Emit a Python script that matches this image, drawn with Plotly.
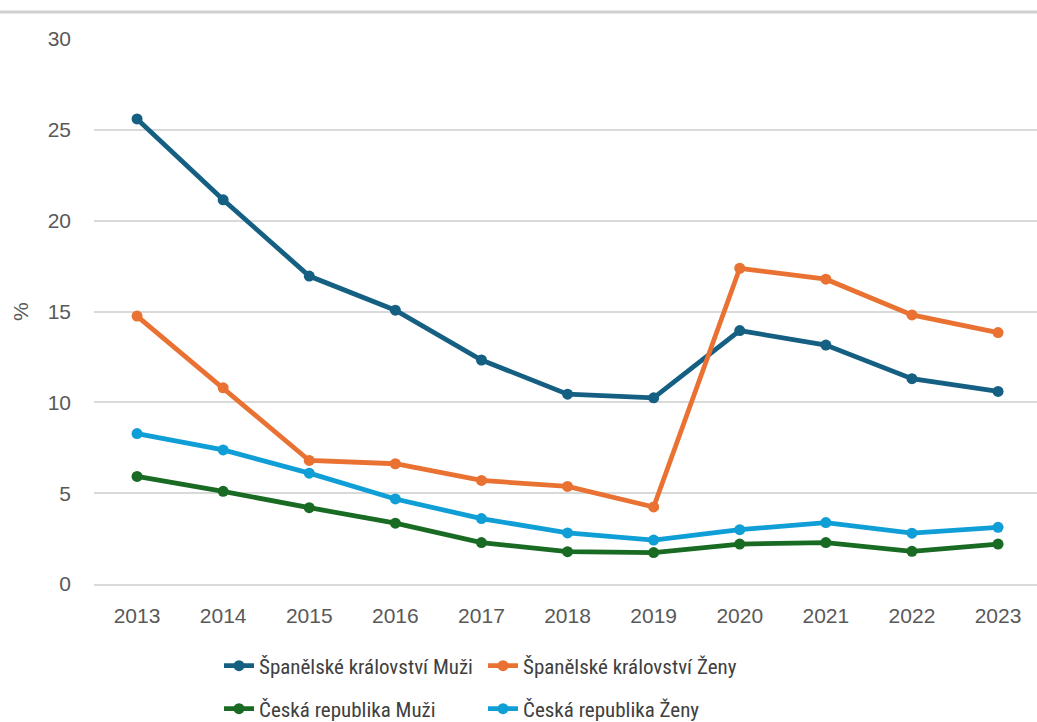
import plotly.graph_objects as go

years = ["2013", "2014", "2015", "2016", "2017", "2018", "2019", "2020", "2021", "2022", "2023"]
es_muzi = [25.6, 21.15, 16.95, 15.07, 12.33, 10.45, 10.25, 13.95, 13.15, 11.3, 10.6]
es_zeny = [14.75, 10.8, 6.8, 6.62, 5.7, 5.37, 4.24, 17.38, 16.78, 14.81, 13.84]
cz_muzi = [5.92, 5.1, 4.2, 3.35, 2.28, 1.78, 1.73, 2.2, 2.28, 1.8, 2.2]
cz_zeny = [8.28, 7.38, 6.1, 4.68, 3.6, 2.81, 2.42, 2.99, 3.38, 2.8, 3.12]

names = ["Španělské království Muži", "Španělské království Ženy",
         "Česká republika Muži", "Česká republika Ženy"]
colors = ["#156082", "#E97132", "#196B24", "#0F9ED5"]
series = [es_muzi, es_zeny, cz_muzi, cz_zeny]
legends = ["legend", "legend", "legend2", "legend2"]

fig = go.Figure()
for nm, col, vals, lg in zip(names, colors, series, legends):
    fig.add_trace(go.Scatter(
        x=years, y=vals, name=nm, mode="lines+markers",
        line=dict(color=col, width=4.8),
        marker=dict(color=col, size=11),
        legend=lg,
    ))

W, H = 1037, 722
ml, mr, mt, mb = 94, 0, 39, 138
pw = W - ml - mr
ph = H - mt - mb
step = 86.1
x_end = -0.5 + pw / step

tick_font = dict(family="Liberation Sans, Arial, sans-serif", size=21, color="#595959")
leg_font = dict(family="Liberation Sans Narrow, Roboto Condensed, Liberation Sans, sans-serif", size=21, color="#404040")

fig.update_layout(
    width=W, height=H,
    margin=dict(l=ml, r=mr, t=mt, b=mb, autoexpand=False),
    paper_bgcolor="white", plot_bgcolor="white",
    showlegend=True,
    xaxis=dict(type="category", range=[-0.5, x_end], showgrid=False,
               showline=True, linecolor="#d9d9d9", linewidth=1.5,
               tickfont=tick_font, ticks="", ticklabelstandoff=12,
               automargin=False),
    yaxis=dict(range=[0, 30], dtick=5, showgrid=True, gridcolor="#d9d9d9",
               gridwidth=1.5, zeroline=False, showline=False,
               tickfont=tick_font, ticks="", ticklabelstandoff=22,
               automargin=False),
    legend=dict(orientation="h", x=(219 - ml) / pw, xanchor="left",
                y=-(666 - 584) / ph, yanchor="middle",
                entrywidth=219, entrywidthmode="pixels",
                font=leg_font, bgcolor="rgba(0,0,0,0)"),
    legend2=dict(orientation="h", x=(219 - ml) / pw, xanchor="left",
                 y=-(709 - 584) / ph, yanchor="middle",
                 entrywidth=219, entrywidthmode="pixels",
                 font=leg_font, bgcolor="rgba(0,0,0,0)"),
    annotations=[dict(text="%", xref="paper", yref="paper",
                      x=(20 - ml) / pw, y=(584 - 312) / ph,
                      xanchor="center", yanchor="middle", textangle=-90,
                      showarrow=False, font=tick_font)],
    shapes=[dict(type="line", xref="paper", yref="paper", layer="above",
                 x0=-ml / pw, x1=1, y0=(584 - 12) / ph, y1=(584 - 12) / ph,
                 line=dict(color="#d0d0d0", width=3))],
)

fig.write_html("out.html", config={"displayModeBar": False},
               post_script="document.body.style.margin='0';document.body.style.overflow='hidden';")
